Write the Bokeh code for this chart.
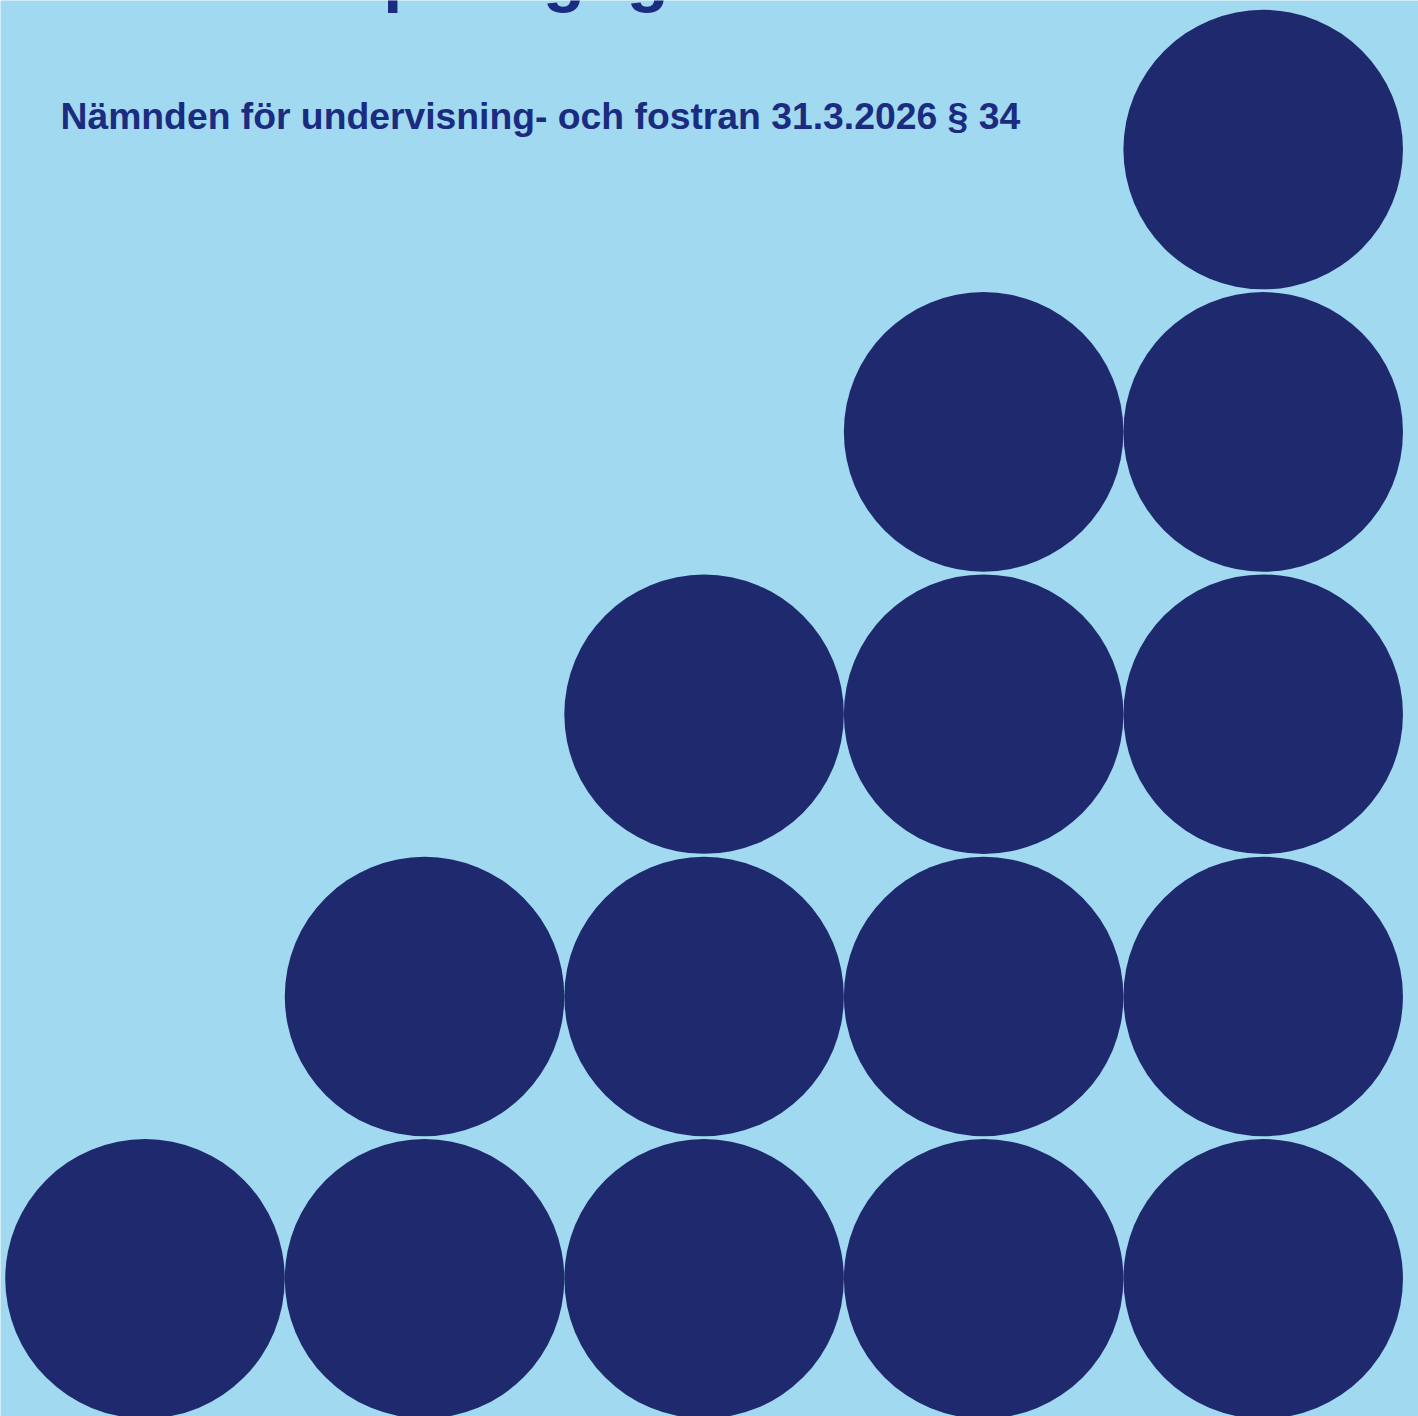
from bokeh.plotting import figure
from bokeh.models import Range1d, Label, ColumnDataSource
from bokeh.embed import file_html
from bokeh.resources import INLINE

# Data: number of stacked dots per column
columns = ["1", "2", "3", "4", "5"]
dot_counts = [1, 2, 3, 4, 5]

title_line = "småbarnspedagogik"
subtitle = "Nämnden för undervisning- och fostran 31.3.2026 § 34"

BG = "#A1D9F0"
DOT = "#1F296E"
TXT = "#1A2B80"

xs, ys = [], []
for i, c in enumerate(dot_counts):
    for level in range(1, c + 1):
        xs.append(i)
        ys.append(level)
src = ColumnDataSource(dict(x=xs, y=ys))

W, H = 1418, 1416
p = figure(width=W, height=H, output_backend="svg", toolbar_location=None,
           x_range=Range1d(-0.5169, 4.5556), y_range=Range1d(0.5122, 5.5281),
           min_border=0, background_fill_color=BG, border_fill_color=BG,
           outline_line_color=None)
p.axis.visible = False
p.grid.visible = False

p.circle(x="x", y="y", radius=0.5, source=src, fill_color=DOT, line_color=None)

p.add_layout(Label(x=59, y=H + 25.5, x_units="screen", y_units="screen", text=title_line,
                   text_font="Liberation Sans", text_font_style="bold", text_font_size="68.5px",
                   text_color=TXT, text_baseline="alphabetic", text_align="left"))
p.add_layout(Label(x=60, y=H - 115.5, x_units="screen", y_units="screen", text=subtitle,
                   text_font="Liberation Sans", text_font_style="bold", text_font_size="37.3px",
                   text_color=TXT, text_baseline="alphabetic", text_align="left"))

open("out.html", "w").write(file_html(p, INLINE))
